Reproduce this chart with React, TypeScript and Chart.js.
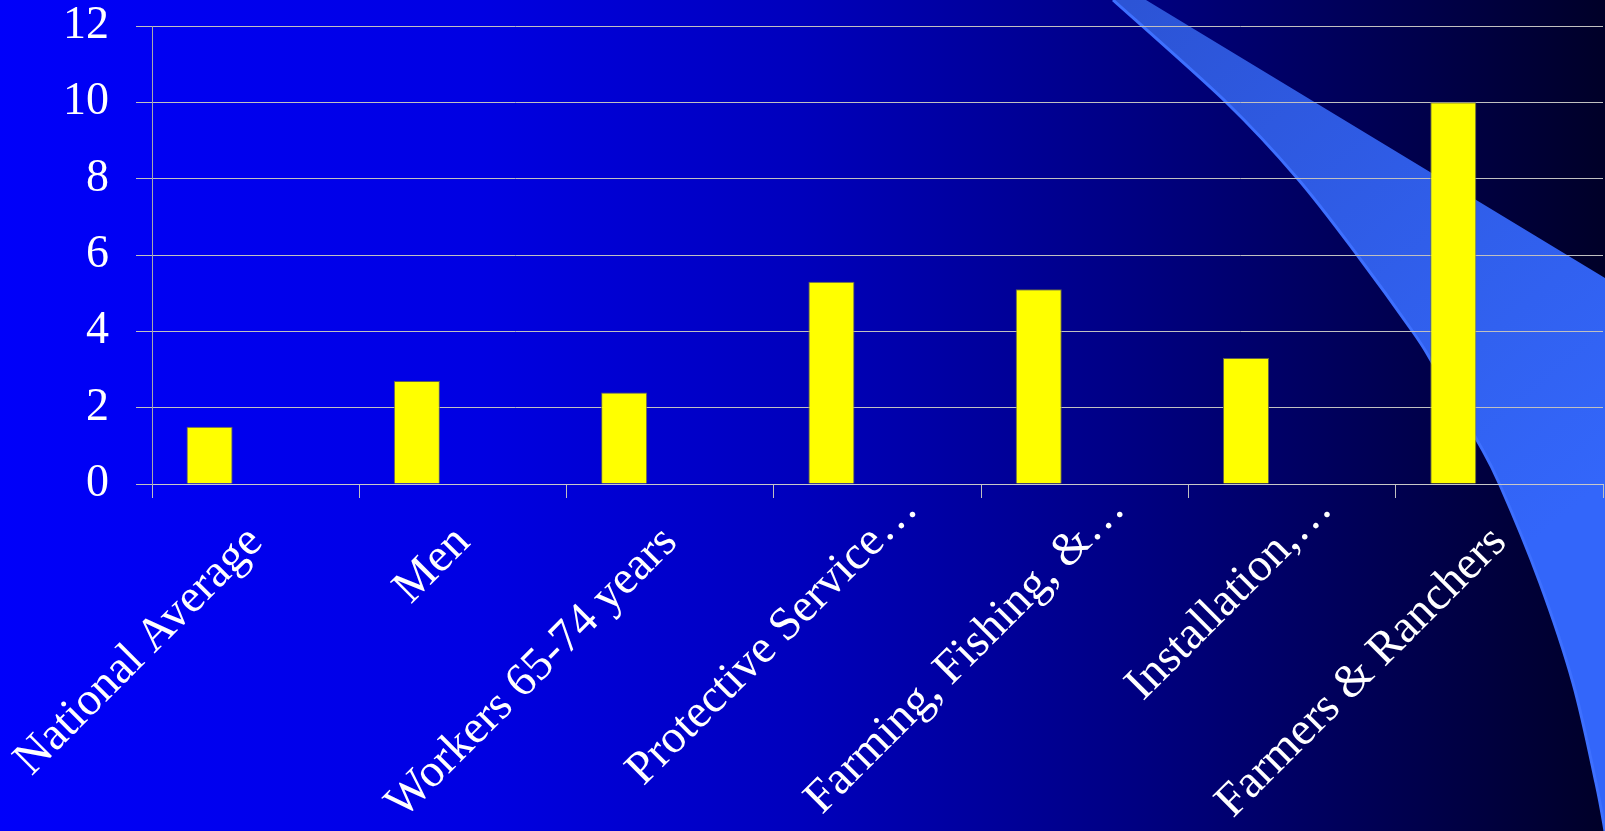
import { useEffect, useRef } from "react";
import { Chart, registerables } from "chart.js";

Chart.register(...registerables);

const categories = [
  "National Average",
  "Men",
  "Workers 65-74 years",
  "Protective Service…",
  "Farming, Fishing, &…",
  "Installation,…",
  "Farmers & Ranchers",
];
const rateValues = [1.5, 2.7, 2.4, 5.3, 5.1, 3.3, 10];
// Two empty series (as in the original chart) that reserve their slots
const emptySeriesB = [null, null, null, null, null, null, null];
const emptySeriesC = [null, null, null, null, null, null, null];
const yMin = 0;
const yMax = 12;
const yStep = 2;

const W = 1605;
const H = 831;
const FONT = "'Liberation Serif', 'Times New Roman', Times, serif";
const FONT_SIZE = 46;
const LABEL_FONT_SIZE = 47;
const ELLIPSIS = "…";

// Decorative ribbon outline (background ornament, not data)
const ribbonLeftEdge: [number, number][] = [
  [1113, 0],
  [1227, 103],
  [1298, 179],
  [1358, 256],
  [1413, 332],
  [1432, 362],
  [1477, 440],
  [1500, 485],
  [1540, 583],
  [1573, 683],
  [1596, 783],
  [1605, 831],
];
const ribbonRightTop: [number, number] = [1146, 0];
const ribbonRightEnd: [number, number] = [1605, 278];

function curveThrough(ctx: CanvasRenderingContext2D, pts: [number, number][]) {
  for (let i = 0; i < pts.length - 1; i++) {
    const p0 = pts[Math.max(0, i - 1)];
    const p1 = pts[i];
    const p2 = pts[i + 1];
    const p3 = pts[Math.min(pts.length - 1, i + 2)];
    const c1x = p1[0] + (p2[0] - p0[0]) / 6;
    const c1y = p1[1] + (p2[1] - p0[1]) / 6;
    const c2x = p2[0] - (p3[0] - p1[0]) / 6;
    const c2y = p2[1] - (p3[1] - p1[1]) / 6;
    ctx.bezierCurveTo(c1x, c1y, c2x, c2y, p2[0], p2[1]);
  }
}

const backdropPlugin = {
  id: "backdrop",
  beforeDraw(chart: any) {
    const ctx: CanvasRenderingContext2D = chart.ctx;
    const w = chart.width;
    const h = chart.height;
    ctx.save();
    const g = ctx.createLinearGradient(0, 0, w, 0);
    g.addColorStop(0, "rgb(0,0,250)");
    g.addColorStop(0.3, "rgb(0,0,226)");
    g.addColorStop(0.5, "rgb(0,0,188)");
    g.addColorStop(0.7, "rgb(0,0,132)");
    g.addColorStop(0.85, "rgb(0,0,86)");
    g.addColorStop(1, "rgb(0,0,40)");
    ctx.fillStyle = g;
    ctx.fillRect(0, 0, w, h);

    const rg = ctx.createLinearGradient(1130, 0, 1560, 520);
    rg.addColorStop(0, "rgb(44,84,214)");
    rg.addColorStop(1, "rgb(51,102,250)");
    ctx.beginPath();
    ctx.moveTo(ribbonLeftEdge[0][0], ribbonLeftEdge[0][1]);
    curveThrough(ctx, ribbonLeftEdge);
    ctx.lineTo(ribbonRightEnd[0], ribbonRightEnd[1]);
    ctx.lineTo(ribbonRightTop[0], ribbonRightTop[1]);
    ctx.closePath();
    ctx.fillStyle = rg;
    ctx.fill();

    ctx.beginPath();
    ctx.moveTo(ribbonLeftEdge[0][0], ribbonLeftEdge[0][1]);
    curveThrough(ctx, ribbonLeftEdge);
    ctx.strokeStyle = "rgb(62,112,255)";
    ctx.lineWidth = 3;
    ctx.stroke();
    ctx.restore();
  },
};

// Category labels: rotated 45°, the word part ends at the tick, a truncation
// ellipsis overflows past it (as in the original slide).
const categoryLabelPlugin = {
  id: "categoryLabels",
  afterDraw(chart: any) {
    const xs = chart.scales.x;
    const ctx: CanvasRenderingContext2D = chart.ctx;
    ctx.save();
    ctx.font = `${LABEL_FONT_SIZE}px ${FONT}`;
    ctx.fillStyle = "#ffffff";
    ctx.textBaseline = "middle";
    ctx.textAlign = "left";
    const y = xs.top + 51;
    xs.ticks.forEach((_t: any, i: number) => {
      const label = String(chart.data.labels[i]);
      const word = label.endsWith(ELLIPSIS) ? label.slice(0, -1) : label;
      const ww = ctx.measureText(word).width;
      const x = xs.getPixelForTick(i);
      ctx.save();
      ctx.translate(x, y);
      ctx.rotate(-Math.PI / 4);
      ctx.fillText(label, -ww, 0);
      ctx.restore();
    });
    ctx.restore();
  },
};

export default function App() {
  const canvasRef = useRef<HTMLCanvasElement | null>(null);

  useEffect(() => {
    const canvas = canvasRef.current;
    if (!canvas) return;
    const chart = new Chart(canvas, {
      type: "bar",
      data: {
        labels: categories,
        datasets: [
          {
            data: rateValues,
            backgroundColor: "#ffff00",
            borderColor: "rgba(110,110,70,0.9)",
            borderWidth: 1,
            categoryPercentage: 3 / 4.5,
            barPercentage: 1,
          },
          {
            data: emptySeriesB as any,
            backgroundColor: "#ff00ff",
            categoryPercentage: 3 / 4.5,
            barPercentage: 1,
          },
          {
            data: emptySeriesC as any,
            backgroundColor: "#00ffff",
            categoryPercentage: 3 / 4.5,
            barPercentage: 1,
          },
        ],
      },
      options: {
        responsive: false,
        animation: false,
        devicePixelRatio: 1,
        layout: { padding: { top: 26, right: 2, left: 0, bottom: 0 } },
        plugins: {
          legend: { display: false },
          tooltip: { enabled: false },
        },
        scales: {
          x: {
            grid: {
              display: true,
              drawOnChartArea: false,
              drawTicks: true,
              tickLength: 14,
              color: "#c0c0c0",
              lineWidth: 1,
            },
            border: { display: true, color: "#c8c8c8", width: 1 },
            ticks: {
              display: false,
              autoSkip: false,
            },
            afterFit: (s: any) => {
              s.height = 347;
              s.paddingLeft = 0;
              s.paddingRight = 0;
            },
          },
          y: {
            min: yMin,
            max: yMax,
            grid: {
              color: "#c0c0c0",
              lineWidth: 1,
              drawTicks: true,
              tickLength: 16,
            },
            border: { display: true, color: "#a8a8a8", width: 1 },
            ticks: {
              stepSize: yStep,
              color: "#ffffff",
              font: { family: FONT, size: FONT_SIZE },
              padding: 27,
            },
            afterFit: (s: any) => {
              s.width = 152;
              s.paddingTop = 0;
              s.paddingBottom = 0;
            },
          },
        },
      },
      plugins: [backdropPlugin, categoryLabelPlugin],
    });
    return () => chart.destroy();
  }, []);

  return (
    <div style={{ position: "fixed", left: 0, top: 0, width: W, height: H }}>
      <canvas ref={canvasRef} width={W} height={H} style={{ display: "block" }} />
    </div>
  );
}
